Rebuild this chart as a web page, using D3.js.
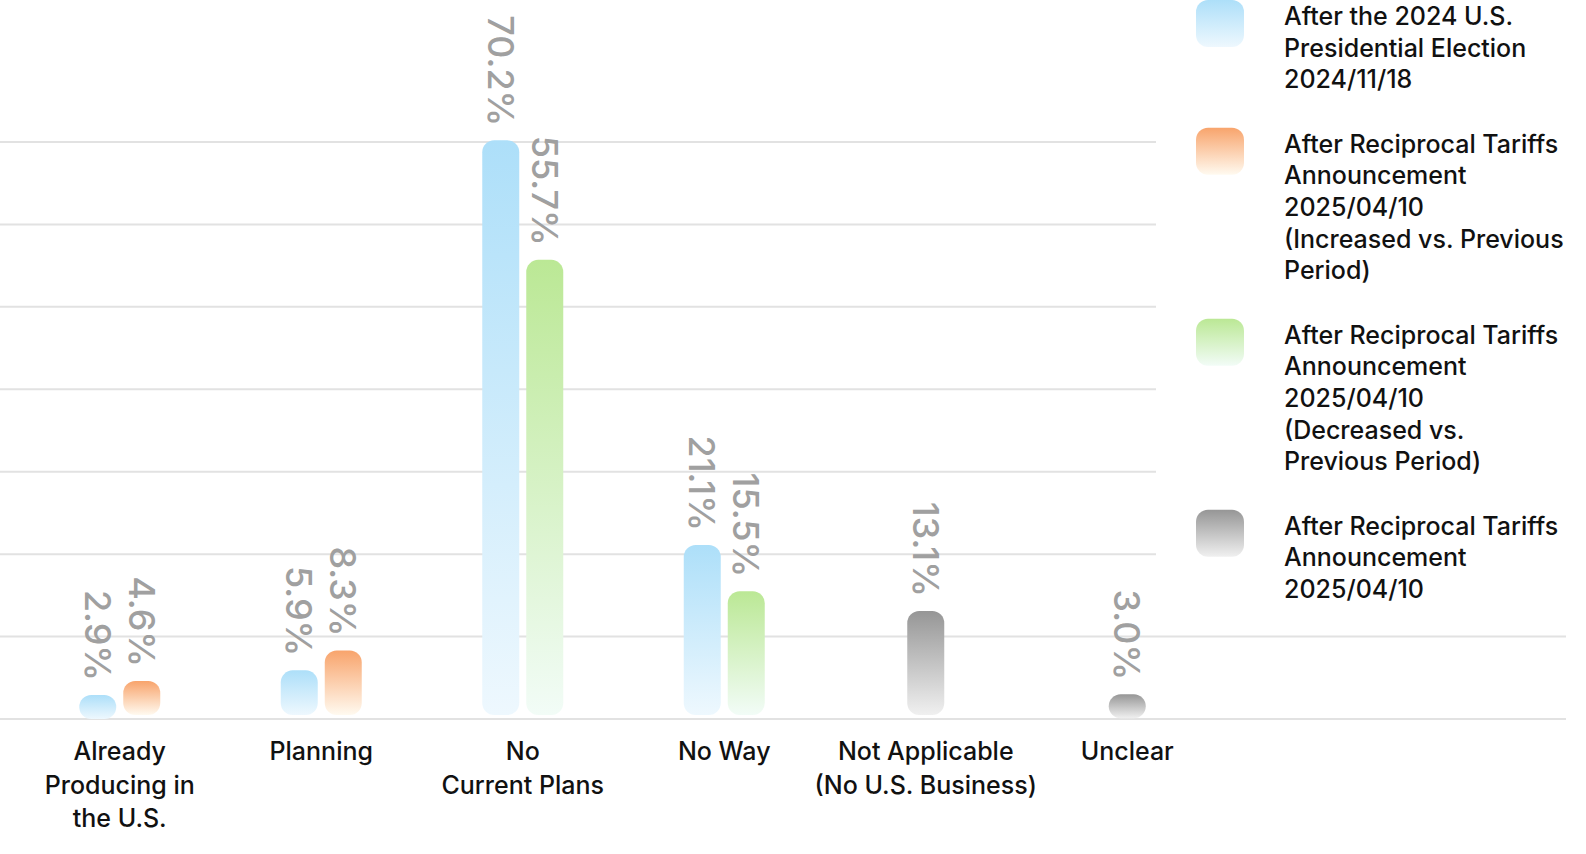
<!DOCTYPE html>
<html>
<head>
<meta charset="utf-8">
<script src="https://cdn.jsdelivr.net/npm/d3@7"></script>
<style>
  body { margin: 0; background: #fff; }
  svg { display: block; font-family: Inter, "Noto Sans", sans-serif; }
</style>
</head>
<body>
<script>
// categories and series
var categories = ["Already\nProducing in\nthe U.S.", "Planning", "No\nCurrent Plans", "No Way", "Not Applicable\n(No U.S. Business)", "Unclear"];
var seriesNames = [
  "After the 2024 U.S.\nPresidential Election\n2024/11/18",
  "After Reciprocal Tariffs\nAnnouncement\n2025/04/10\n(Increased vs. Previous\nPeriod)",
  "After Reciprocal Tariffs\nAnnouncement\n2025/04/10\n(Decreased vs.\nPrevious Period)",
  "After Reciprocal Tariffs\nAnnouncement\n2025/04/10"
];
// null = no bar for that category
var electionVals  = [2.9, 5.9, 70.2, 21.1, null, null];
var increasedVals = [4.6, 8.3, null, null, null, null];
var decreasedVals = [null, null, 55.7, 15.5, null, null];
var tariffVals    = [null, null, null, null, 13.1, 3.0];
var gridTicks = [0, 10, 20, 30, 40, 50, 60, 70];

var colors = [
  ["#addff9", "#eef8fe"],
  ["#f8a46c", "#fffaf0"],
  ["#bbe895", "#f2fcf7"],
  ["#969696", "#f0f0f0"]
];

var W = 1586, H = 854;
var svg = d3.select("body").append("svg").attr("width", W).attr("height", H);

var defs = svg.append("defs");
colors.forEach(function(c, i) {
  var g = defs.append("linearGradient").attr("id", "grad" + i)
    .attr("x1", 0).attr("y1", 0).attr("x2", 0).attr("y2", 1);
  g.append("stop").attr("offset", "0%").attr("stop-color", c[0]);
  g.append("stop").attr("offset", "100%").attr("stop-color", c[1]);
});

var y = d3.scaleLinear().domain([0, 70]).range([719, 142]);
var x = d3.scaleBand().domain(categories).range([19, 1228]);

// gridlines
svg.append("g").selectAll("line").data(gridTicks).enter().append("line")
  .attr("x1", 0).attr("x2", 1566)
  .attr("y1", function(d) { return y(d); })
  .attr("y2", function(d) { return y(d); })
  .attr("stroke", "#e2e2e2").attr("stroke-width", 2);

// build bars per category: only non-null series, centred on the band
var allSeries = [electionVals, increasedVals, decreasedVals, tariffVals];
var bars = [];
categories.forEach(function(cat, ci) {
  var present = [];
  allSeries.forEach(function(s, si) { if (s[ci] != null) present.push({ s: si, v: s[ci] }); });
  present.forEach(function(p, k) {
    bars.push({ cat: cat, s: p.s, v: p.v, k: k, n: present.length });
  });
});

var barW = 37, gap = 7;
function barX(d) {
  var total = d.n * barW + (d.n - 1) * gap;
  return x(d.cat) + x.bandwidth() / 2 - total / 2 + d.k * (barW + gap);
}

svg.append("g").selectAll("rect").data(bars).enter().append("rect")
  .attr("x", barX)
  .attr("y", function(d) { return y(d.v); })
  .attr("width", barW)
  .attr("height", function(d) { return Math.max(y(0) - 4 - y(d.v), 24); })
  .attr("rx", 12).attr("ry", 12)
  .attr("fill", function(d) { return "url(#grad" + d.s + ")"; });

// value labels, rotated
svg.append("g").selectAll("text").data(bars).enter().append("text")
  .attr("transform", function(d) {
    return "translate(" + (barX(d) + barW / 2) + "," + (y(d.v) - 14) + ") rotate(90)";
  })
  .attr("text-anchor", "end")
  .attr("dominant-baseline", "central")
  .attr("font-size", 36)
  .attr("font-weight", 500)
  .attr("fill", "#a0a0a0")
  .text(function(d) { return d.v.toFixed(1) + "%"; });

// category labels
var catG = svg.append("g").selectAll("text").data(categories).enter().append("text")
  .attr("text-anchor", "middle")
  .attr("font-size", 25)
  .attr("font-weight", 500)
  .attr("fill", "#111");
catG.selectAll("tspan").data(function(d) { return d.split("\n").map(function(t) { return { t: t, c: d }; }); })
  .enter().append("tspan")
  .attr("x", function(d) { return x(d.c) + x.bandwidth() / 2; })
  .attr("y", function(d, i) { return 760 + i * 33.5; })
  .text(function(d) { return d.t; });

// legend
var leg = svg.append("g");
leg.append("rect").attr("x", 1156).attr("y", 0).attr("width", W - 1156).attr("height", 612).attr("fill", "#fff");
var lineH = 31.6;
var startY = 16;
seriesNames.forEach(function(name, i) {
  var lines = name.split("\n");
  leg.append("rect").attr("x", 1196).attr("y", startY - 16).attr("width", 48).attr("height", 47)
    .attr("rx", 12).attr("fill", "url(#grad" + i + ")");
  var t = leg.append("text").attr("font-size", 25).attr("font-weight", 500).attr("fill", "#111");
  t.selectAll("tspan").data(lines).enter().append("tspan")
    .attr("x", 1284)
    .attr("y", function(d, k) { return startY + k * lineH; })
    .attr("dominant-baseline", "central")
    .text(function(d) { return d; });
  startY += lines.length * lineH + 33;
});
</script>
</body>
</html>
